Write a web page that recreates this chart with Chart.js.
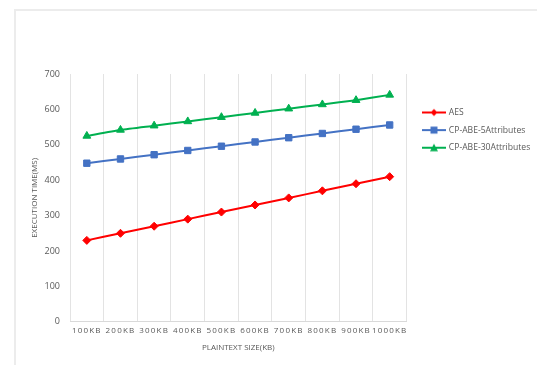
<!DOCTYPE html>
<html>
<head>
<meta charset="utf-8">
<script src="https://cdn.jsdelivr.net/npm/chart.js@4/dist/chart.umd.min.js"></script>
<style>
  html, body { margin: 0; padding: 0; background: #fff; }
  body { width: 537px; height: 365px; position: relative; overflow: hidden; }
  .frame {
    position: absolute; left: 14px; top: 9px; width: 600px; height: 400px;
    border-left: 2px solid #ececec; border-top: 2px solid #ececec;
  }
  #wrap { position: absolute; left: 0; top: 0; width: 537px; height: 365px; }
</style>
</head>
<body>
<div class="frame"></div>
<div id="wrap"><canvas id="timeChart"></canvas></div>
<script>
const sizes = ["100KB", "200KB", "300KB", "400KB", "500KB", "600KB", "700KB", "800KB", "900KB", "1000KB"];
const aesTimes = [230, 250, 270, 290, 310, 330, 350, 370, 390, 410];
const abe5Times = [448, 460, 472, 484, 496, 508, 520, 532, 544, 556];
const abe30Times = [525, 542, 554, 566, 578, 590, 602, 614, 626, 641];
const yTicks = [0, 100, 200, 300, 400, 500, 600, 700];

const textColor = "#595959";
const gridColor = "#e3e3e3";

// legend sample: short line with the series marker in the middle
function legendIcon(color, style) {
  const c = document.createElement("canvas");
  c.width = 32;
  c.height = 10;
  const g = c.getContext("2d");
  g.strokeStyle = color;
  g.fillStyle = color;
  g.lineWidth = 2;
  g.beginPath();
  g.moveTo(8, 5);
  g.lineTo(32, 5);
  g.stroke();
  g.beginPath();
  if (style === "rectRot") {
    g.moveTo(20, 1.5); g.lineTo(23.5, 5); g.lineTo(20, 8.5); g.lineTo(16.5, 5);
  } else if (style === "rect") {
    g.rect(16.5, 1.5, 7, 7);
  } else {
    g.moveTo(20, 1); g.lineTo(24, 8.5); g.lineTo(16, 8.5);
  }
  g.closePath();
  g.fill();
  return c;
}

// spaced-out category labels on the x axis
const spacedXLabels = {
  id: "spacedXLabels",
  beforeDraw(chart) {
    const x = chart.scales.x;
    if (x._spaced) return;
    const orig = x.drawLabels.bind(x);
    x.drawLabels = (area) => {
      x.ctx.save();
      x.ctx.letterSpacing = "1.2px";
      orig(area);
      x.ctx.restore();
    };
    x._spaced = true;
  },
};

const series = [
  { label: "AES", data: aesTimes, color: "#ff0000", style: "rectRot", radius: 4 },
  { label: "CP-ABE-5Attributes", data: abe5Times, color: "#4472c4", style: "rect", radius: 4.5 },
  { label: "CP-ABE-30Attributes", data: abe30Times, color: "#00b050", style: "triangle", radius: 4.5 },
];

const ctx = document.getElementById("timeChart").getContext("2d");
new Chart(ctx, {
  type: "line",
  data: {
    labels: sizes,
    datasets: series.map((s) => ({
      label: s.label,
      data: s.data,
      borderColor: s.color,
      backgroundColor: s.color,
      borderWidth: 2,
      pointStyle: s.style,
      pointRadius: s.radius,
      pointBorderWidth: 1,
      tension: 0.2,
    })),
  },
  plugins: [spacedXLabels],
  options: {
    responsive: true,
    maintainAspectRatio: false,
    animation: false,
    layout: { padding: { top: 74, left: 30, right: 5, bottom: 12 } },
    plugins: {
      tooltip: { enabled: false },
      legend: {
        position: "right",
        align: "start",
        title: { display: true, text: "", font: { size: 1 }, padding: { top: 24, bottom: 0 } },
        labels: {
          color: textColor,
          font: { family: "'Open Sans'", size: 8.6 },
          usePointStyle: true,
          pointStyleWidth: 29,
          padding: 9,
          generateLabels: (chart) =>
            series.map((s, i) => ({
              text: s.label,
              pointStyle: legendIcon(s.color, s.style),
              fillStyle: s.color,
              strokeStyle: s.color,
              lineWidth: 0,
              fontColor: textColor,
              datasetIndex: i,
              hidden: false,
            })),
        },
      },
    },
    scales: {
      x: {
        offset: true,
        grid: { offset: true, color: gridColor, drawTicks: false },
        border: { color: "#d9d9d9" },
        ticks: { color: textColor, font: { family: "'Open Sans'", size: 8 }, padding: 4, maxRotation: 0, autoSkip: false },
        title: {
          display: true,
          text: "PLAINTEXT SIZE(KB)",
          color: textColor,
          font: { family: "'Open Sans'", size: 8 },
          padding: { top: 4, bottom: 0 },
        },
      },
      y: {
        min: 0,
        max: 700,
        afterBuildTicks: (axis) => {
          axis.ticks = yTicks.map((v) => ({ value: v }));
        },
        afterFit: (axis) => {
          axis.width = 40;
        },
        grid: { display: false, drawTicks: false },
        border: { display: false },
        ticks: { color: textColor, font: { family: "'Open Sans'", size: 9 }, padding: 10 },
        title: {
          display: true,
          text: "EXECUTION TIME(MS)",
          color: textColor,
          font: { family: "'Open Sans'", size: 8 },
          padding: { top: 0, bottom: 4 },
        },
      },
    },
  },
});
</script>
</body>
</html>
